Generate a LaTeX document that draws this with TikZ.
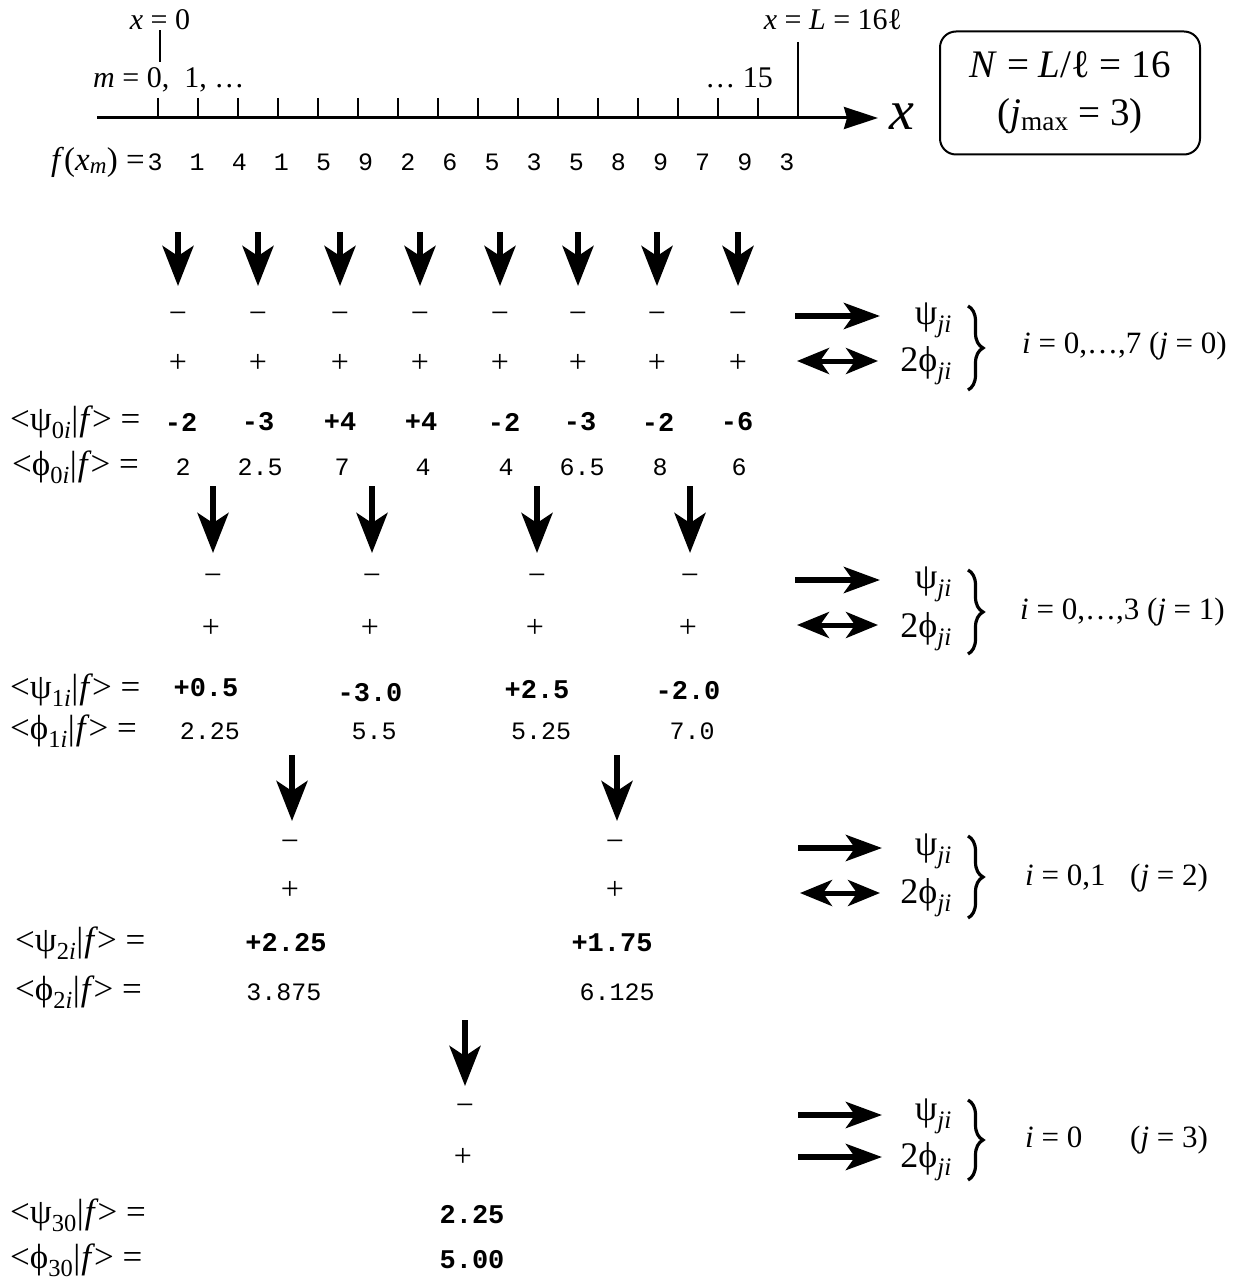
\documentclass[tikz,border=0pt]{standalone}
\usepackage{fontspec}
\setmainfont{Liberation Serif}
\setmonofont{Liberation Mono}
\usepackage{tikz}
\usetikzlibrary{arrows.meta,positioning,calc,decorations.pathreplacing}
\newcommand{\fsz}[1]{\fontsize{#1}{#1}\selectfont}
% <psi_ji|f> = style row labels
\newcommand{\braf}[2]{<#1\textsubscript{#2}|\kern1pt\textit{f}\kern-1pt>\ =}
\tikzset{
  lbl/.style  ={font=\fsz{30},inner sep=0pt},
  rlbl/.style ={font=\fsz{35},inner sep=0pt,anchor=west},
  leg/.style  ={font=\fsz{36},inner sep=0pt,anchor=east},
  cnd/.style  ={font=\fsz{31},inner sep=0pt,anchor=west},
  num/.style  ={font=\fsz{25}\ttfamily,inner sep=0pt},
  wnum/.style ={font=\fsz{27}\ttfamily\bfseries,inner sep=0pt},
  sgn/.style  ={font=\fsz{32},inner sep=0pt},
  brc/.style  ={decorate,decoration={brace,amplitude=15pt},line width=3.2pt},
  axis/.style ={-{Stealth[length=34pt,width=22pt,inset=3pt]},line width=3pt},
  tck/.style  ={line width=2.5pt},
  down/.style ={-{Stealth[length=40pt,width=31pt,inset=10pt]},line width=5.5pt},
  fwd/.style  ={-{Stealth[length=36pt,width=26pt,inset=9pt]},line width=6pt},
  both/.style ={{Stealth[length=32pt,width=26pt,inset=9pt]}-{Stealth[length=32pt,width=26pt,inset=9pt]},line width=5pt},
  nbox/.style ={draw,line width=2pt,rounded corners=16pt,align=center,
                minimum width=260pt,minimum height=123pt,font=\fsz{39}},
}

\begin{document}
\begin{tikzpicture}[x=1pt,y=1pt]
\useasboundingbox (0,0) rectangle (1236,-1281);

% ===== x axis and the sample points ======================================
\draw[axis] (97,-118) -- (878,-118);
\node[font=\fsz{56}\itshape,inner sep=0pt] (xax) at (902,-117) {x};
\foreach \m in {0,...,15}{\draw[tck] ({158+40*\m},-98) -- ({158+40*\m},-118);}

\node[lbl] (xz) at (160,-20) {\textit{x} = 0};
\coordinate (xzb) at (160,-62);
\draw[line width=2pt] (xz.south) -- (xzb);
\node[lbl,anchor=west] (mlbl) at (93,-80) {\textit{m} = 0,\ \ 1, \ldots};
\node[lbl,anchor=east] (mend) at (773,-78) {\ldots\ 15};

\node[lbl] (xl) at (833,-20) {\textit{x} = \textit{L} = 16ℓ};
\coordinate (xlt) at (798,-42);
\draw[tck] (xlt) -- (798,-118);

\node[nbox] (nb) at (1070,-93)
  {\textit{N} = \textit{L}/ℓ = 16\\[9pt] (\textit{j}\textsubscript{max} = 3)};

% f(x_m) samples
\node[font=\fsz{33},inner sep=0pt,anchor=east] (flbl) at (145,-162)
  {\textit{f}(\textit{x}\textsubscript{\textit{m}}) =};
\foreach \v [count=\m from 0] in {3,1,4,1,5,9,2,6,5,3,5,8,9,7,9,3}
  \node[num] (f\m) at ({155+42.13*\m},-162) {\v};

% ===== level j = 0 =========================================================
\foreach \x [count=\i from 0] in {178,258,340,420,500,578,657,738}{
  \coordinate (s0\i) at (\x,-232);
  \coordinate (e0\i) at (\x,-286);
  \draw[down] (s0\i) -- (e0\i);
  \node[sgn] (mi0\i) at (\x,-318) {−};
  \node[sgn] (pl0\i) at (\x,-363) {+};
}
\node[rlbl] (w0lbl) at (10,-422) {\braf{ψ}{0\textit{i}}};
\node[rlbl] (c0lbl) at (12,-467) {\braf{ϕ}{0\textit{i}}};
\foreach \x/\p/\q [count=\i from 0] in
  {181/-2/2,258/-3/2.5,340/+4/7,421/+4/4,504/-2/4,580/-3/6.5,658/-2/8,737/-6/6}{
  \node[wnum] (w0\i) at (\x,-422) {\p};
  \node[num]  (c0\i) at ({\x+2},-467) {\q};
}

% ===== level j = 1 =========================================================
\foreach \x [count=\i from 0] in {213,372,537,690}{
  \coordinate (s1\i) at (\x,-486);
  \coordinate (e1\i) at (\x,-553);
  \draw[down] (s1\i) -- (e1\i);
  \node[sgn] (mi1\i) at (\x,-580) {−};
  \node[sgn] (pl1\i) at (\x-2,-628) {+};
}
\node[rlbl] (w1lbl) at (10,-690) {\braf{ψ}{1\textit{i}}};
\node[rlbl] (c1lbl) at (10,-731) {\braf{ϕ}{1\textit{i}}};
\foreach \x/\y/\p/\q [count=\i from 0] in
  {206/688/+0.5/2.25,370/693/-3.0/5.5,537/690/+2.5/5.25,688/691/-2.0/7.0}{
  \node[wnum] (w1\i) at (\x,-\y) {\p};
  \node[num]  (c1\i) at ({\x+4},-731) {\q};
}

% ===== level j = 2 =========================================================
\foreach \x [count=\i from 0] in {292,617}{
  \coordinate (s2\i) at (\x,-755);
  \coordinate (e2\i) at (\x,-821);
  \draw[down] (s2\i) -- (e2\i);
  \node[sgn] (mi2\i) at (\x-2,-846) {−};
  \node[sgn] (pl2\i) at (\x-2,-890) {+};
}
\node[rlbl] (w2lbl) at (15,-943) {\braf{ψ}{2\textit{i}}};
\node[rlbl] (c2lbl) at (15,-992) {\braf{ϕ}{2\textit{i}}};
\node[wnum] (w20) at (286,-943) {+2.25};
\node[wnum] (w21) at (612,-943) {+1.75};
\node[num]  (c20) at (284,-992) {3.875};
\node[num]  (c21) at (617,-992) {6.125};

% ===== level j = 3 =========================================================
\coordinate (s30) at (465,-1020);
\coordinate (e30) at (465,-1086);
\draw[down] (s30) -- (e30);
\node[sgn] (mi30) at (465,-1110) {−};
\node[sgn] (pl30) at (463,-1157) {+};
\node[rlbl] (w3lbl) at (10,-1215) {\braf{ψ}{30}};
\node[rlbl] (c3lbl) at (10,-1260) {\braf{ϕ}{30}};
\node[wnum] (w30) at (472,-1215) {2.25};
\node[wnum] (c30) at (472,-1260) {5.00};

% ===== legends =============================================================
% j = 0
\draw[fwd]  (795,-316) -- (880,-316);
\draw[both] (797,-361) -- (878,-361);
\node[leg] (lp0) at (952,-320) {ψ\textsubscript{\textit{ji}}};
\node[leg] (lf0) at (952,-366) {2ϕ\textsubscript{\textit{ji}}};
\draw[brc] (968,-306) -- (968,-390);
\node[cnd] (cd0) at (1022,-346) {\textit{i} = 0,…,7 (\textit{j} = 0)};
% j = 1
\draw[fwd]  (795,-580) -- (880,-580);
\draw[both] (797,-625) -- (878,-625);
\node[leg] (lp1) at (952,-584) {ψ\textsubscript{\textit{ji}}};
\node[leg] (lf1) at (952,-632) {2ϕ\textsubscript{\textit{ji}}};
\draw[brc] (968,-570) -- (968,-654);
\node[cnd] (cd1) at (1020,-612) {\textit{i} = 0,…,3 (\textit{j} = 1)};
% j = 2
\draw[fwd]  (798,-848) -- (882,-848);
\draw[both] (800,-893) -- (880,-893);
\node[leg] (lp2) at (952,-851) {ψ\textsubscript{\textit{ji}}};
\node[leg] (lf2) at (952,-898) {2ϕ\textsubscript{\textit{ji}}};
\draw[brc] (968,-836) -- (968,-918);
\node[cnd] (cd2) at (1025,-878)
  {\makebox[105pt][l]{\textit{i} = 0,1}(\textit{j} = 2)};
% j = 3
\draw[fwd] (798,-1115) -- (882,-1115);
\draw[fwd] (798,-1157) -- (882,-1157);
\node[leg] (lp3) at (952,-1116) {ψ\textsubscript{\textit{ji}}};
\node[leg] (lf3) at (952,-1162) {2ϕ\textsubscript{\textit{ji}}};
\draw[brc] (968,-1100) -- (968,-1180);
\node[cnd] (cd3) at (1025,-1140)
  {\makebox[105pt][l]{\textit{i} = 0}(\textit{j} = 3)};
\end{tikzpicture}
\end{document}
